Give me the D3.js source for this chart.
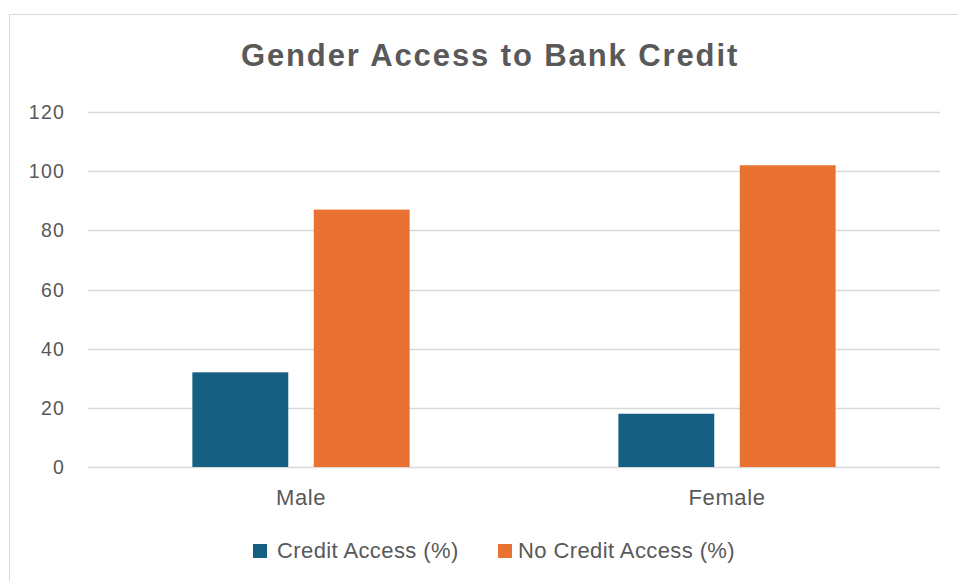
<!DOCTYPE html>
<html>
<head>
<meta charset="utf-8">
<script src="https://cdn.jsdelivr.net/npm/d3@7"></script>
<style>
  body { margin: 0; background: #fff; }
  svg { display: block; font-family: "Liberation Sans", Arial, sans-serif; }
</style>
</head>
<body>
<svg id="chart" width="958" height="581"></svg>
<script>
const categories = ["Male", "Female"];
const seriesNames = ["Credit Access (%)", "No Credit Access (%)"];
const creditAccess = [32, 18];
const noCreditAccess = [87, 102];
const yTicks = [0, 20, 40, 60, 80, 100, 120];

const colors = ["#156082", "#E97132"];
const textColor = "#595959";

const svg = d3.select("#chart");
const margin = { left: 88, right: 18, top: 112, bottom: 114 };
const width = 958, height = 581;

// chart frame
svg.append("rect")
  .attr("x", 9.5).attr("y", 14.5)
  .attr("width", 960).attr("height", 600)
  .attr("fill", "#fff")
  .attr("stroke", "#d9d9d9");

const rows = categories.map((c, i) => ({ cat: c, values: [creditAccess[i], noCreditAccess[i]] }));

const x0 = d3.scaleBand()
  .domain(categories)
  .range([margin.left, width - margin.right])
  .paddingInner(0.49)
  .paddingOuter(0.245);

const x1 = d3.scaleBand()
  .domain(d3.range(seriesNames.length))
  .range([0, x0.bandwidth()])
  .paddingInner(0.21);

const y = d3.scaleLinear()
  .domain([0, 120])
  .range([height - margin.bottom, margin.top]);

// gridlines
svg.append("g")
  .selectAll("line")
  .data(yTicks)
  .join("line")
  .attr("x1", margin.left)
  .attr("x2", width - margin.right)
  .attr("y1", (d) => Math.round(y(d)) + 0.5)
  .attr("y2", (d) => Math.round(y(d)) + 0.5)
  .attr("stroke", "#d9d9d9")
  .attr("stroke-width", 1.5);

// y axis labels
svg.append("g")
  .selectAll("text")
  .data(yTicks)
  .join("text")
  .attr("x", 65)
  .attr("y", (d) => y(d))
  .attr("dy", "0.36em")
  .attr("text-anchor", "end")
  .attr("font-size", 19.5)
  .attr("letter-spacing", 1.2)
  .attr("fill", textColor)
  .text((d) => d);

// bars
svg.append("g")
  .selectAll("g")
  .data(rows)
  .join("g")
  .attr("transform", (d) => `translate(${x0(d.cat)},0)`)
  .selectAll("rect")
  .data((d) => d.values)
  .join("rect")
  .attr("x", (d, i) => x1(i))
  .attr("width", x1.bandwidth())
  .attr("y", (d) => y(d))
  .attr("height", (d) => y(0) - y(d))
  .attr("fill", (d, i) => colors[i]);

// category labels
svg.append("g")
  .selectAll("text")
  .data(categories)
  .join("text")
  .attr("x", (d) => x0(d) + x0.bandwidth() / 2)
  .attr("y", 505)
  .attr("text-anchor", "middle")
  .attr("font-size", 22)
  .attr("letter-spacing", 0.6)
  .attr("fill", textColor)
  .text((d) => d);

// title
svg.append("text")
  .attr("x", 490)
  .attr("y", 66)
  .attr("text-anchor", "middle")
  .attr("font-size", 31)
  .attr("font-weight", "bold")
  .attr("letter-spacing", 1.9)
  .attr("fill", textColor)
  .text("Gender Access to Bank Credit");

// legend
const legendX = [253, 498];
const legend = svg.append("g")
  .selectAll("g")
  .data(seriesNames)
  .join("g")
  .attr("transform", (d, i) => `translate(${legendX[i]},544)`);
legend.append("rect")
  .attr("width", 14).attr("height", 14)
  .attr("fill", (d, i) => colors[i]);
legend.append("text")
  .attr("x", (d, i) => (i === 0 ? 24 : 20))
  .attr("y", 14)
  .attr("font-size", 22)
  .attr("letter-spacing", 0.4)
  .attr("fill", textColor)
  .text((d) => d);
</script>
</body>
</html>
